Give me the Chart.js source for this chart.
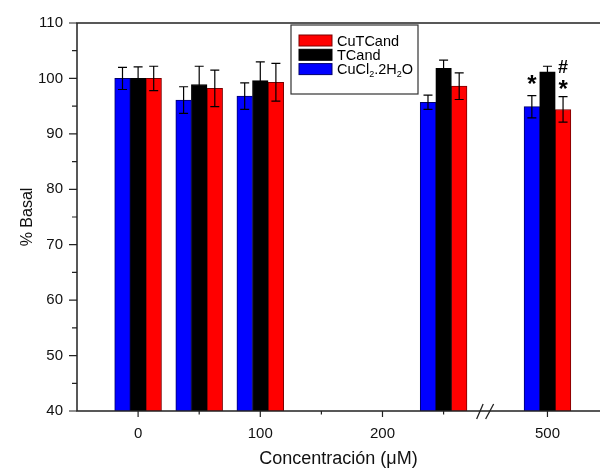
<!DOCTYPE html>
<html>
<head>
<meta charset="utf-8">
<script src="https://cdn.jsdelivr.net/npm/chart.js@4.4.0/dist/chart.umd.min.js"></script>
<style>
    body { margin: 0; background: #fff; }
</style>
</head>
<body>
<canvas id="barBasal" width="600" height="468"></canvas>
<script>
// dữ liệu
const concentrations = [0, 50, 100, 250, 500];
const seriesNames = ["CuCl₂.2H₂O", "TCand", "CuTCand"];
const cuclValues = [100.0, 96.1, 96.8, 95.7, 94.9];
const cuclErrors = [2.0, 2.4, 2.4, 1.3, 2.0];
const tcandValues = [100.0, 98.9, 99.6, 101.8, 101.2];
const tcandErrors = [2.1, 3.3, 3.4, 1.5, 1.0];
const cutcandValues = [100.0, 98.2, 99.3, 98.6, 94.4];
const cutcandErrors = [2.2, 3.3, 3.4, 2.4, 2.3];
const xTickLabels = [0, 100, 200, 500];
const xMinorTicks = [50, 150, 250];
const yMajorTicks = [40, 50, 60, 70, 80, 90, 100, 110];
const markTexts = ["*", "*", "#"];
const markSeries = [0, 2, 2];
const markIndex = [4, 4, 4];

// style
const seriesColors = ["#0000ff", "#000000", "#ff0000"];
const seriesBorders = ["#00006a", "#000000", "#7a0000"];
const markLift = [16, 12, 30];
const markSize = { "*": 24, "#": 18 };
const fontFamily = "'Liberation Sans', Arial, sans-serif";
const axisColor = "#222";

// trục bị cắt giữa 250 và 500
const breakFrom = 300;
const breakShift = 165;
const breakMarkAt = 284;

function toAxis(c) {
    return c >= breakFrom ? c - breakShift : c;
}

const allValues = [cuclValues, tcandValues, cutcandValues];
const allErrors = [cuclErrors, tcandErrors, cutcandErrors];

var datasets = [];
for (let s = 0; s < seriesNames.length; s++) {
    datasets.push({
        label: seriesNames[s],
        data: concentrations.map((c, i) => ({ x: toAxis(c), y: allValues[s][i] })),
        backgroundColor: seriesColors[s],
        borderColor: seriesBorders[s],
        borderWidth: 1,
        barThickness: 15.6
    });
}

// thanh sai số
const errorBars = {
    id: 'errorBars',
    afterDatasetsDraw(chart) {
        const ctx = chart.ctx;
        const yScale = chart.scales.y;
        ctx.save();
        ctx.strokeStyle = "#000";
        ctx.lineWidth = 1.2;
        chart.data.datasets.forEach((ds, s) => {
            const meta = chart.getDatasetMeta(s);
            meta.data.forEach((bar, i) => {
                const v = allValues[s][i], e = allErrors[s][i];
                const yTop = yScale.getPixelForValue(v + e);
                const yBot = yScale.getPixelForValue(v - e);
                ctx.beginPath();
                ctx.moveTo(bar.x, yTop);
                ctx.lineTo(bar.x, yBot);
                ctx.moveTo(bar.x - 4.5, yTop);
                ctx.lineTo(bar.x + 4.5, yTop);
                ctx.moveTo(bar.x - 4.5, yBot);
                ctx.lineTo(bar.x + 4.5, yBot);
                ctx.stroke();
            });
        });
        // dấu * và #
        ctx.fillStyle = "#000";
        ctx.textAlign = "center";
        ctx.textBaseline = "alphabetic";
        for (let m = 0; m < markTexts.length; m++) {
            const s = markSeries[m], i = markIndex[m];
            const bar = chart.getDatasetMeta(s).data[i];
            const yTop = yScale.getPixelForValue(allValues[s][i] + allErrors[s][i]);
            ctx.font = "bold " + markSize[markTexts[m]] + "px " + fontFamily;
            const tm = ctx.measureText(markTexts[m]);
            const cy = yTop - markLift[m];
            ctx.fillText(markTexts[m], bar.x, cy + (tm.actualBoundingBoxAscent - tm.actualBoundingBoxDescent) / 2);
        }
        ctx.restore();
    }
};

// khung trục, vạch chia, dấu ngắt trục
const axesDeco = {
    id: 'axesDeco',
    afterDraw(chart) {
        const ctx = chart.ctx;
        const area = chart.chartArea;
        const xs = chart.scales.x, ys = chart.scales.y;
        ctx.save();
        ctx.strokeStyle = axisColor;
        ctx.lineWidth = 1.5;
        ctx.beginPath();
        ctx.moveTo(area.right, area.top);
        ctx.lineTo(area.left, area.top);
        ctx.lineTo(area.left, area.bottom);
        ctx.lineTo(area.right, area.bottom);
        ctx.stroke();

        ctx.lineWidth = 1.2;
        ctx.beginPath();
        yMajorTicks.forEach(v => {
            const y = ys.getPixelForValue(v);
            ctx.moveTo(area.left - 8, y);
            ctx.lineTo(area.left, y);
            if (v < 110) {
                const ym = ys.getPixelForValue(v + 5);
                ctx.moveTo(area.left - 5, ym);
                ctx.lineTo(area.left, ym);
            }
        });
        xTickLabels.forEach(c => {
            const x = xs.getPixelForValue(toAxis(c));
            ctx.moveTo(x, area.bottom);
            ctx.lineTo(x, area.bottom + 6);
        });
        xMinorTicks.forEach(c => {
            const x = xs.getPixelForValue(toAxis(c));
            ctx.moveTo(x, area.bottom);
            ctx.lineTo(x, area.bottom + 3.5);
        });
        ctx.stroke();

        const bx = xs.getPixelForValue(breakMarkAt);
        ctx.lineWidth = 1.3;
        ctx.beginPath();
        ctx.moveTo(bx - 8.5, area.bottom + 8);
        ctx.lineTo(bx - 2, area.bottom - 7);
        ctx.moveTo(bx + 0.5, area.bottom + 8);
        ctx.lineTo(bx + 8.5, area.bottom - 7);
        ctx.stroke();
        ctx.restore();
    }
};

// chú thích có khung, đặt trong vùng vẽ
const boxLegend = {
    id: 'boxLegend',
    afterDraw(chart) {
        const ctx = chart.ctx;
        const left = 291, top = 25, w = 127, h = 69;
        ctx.save();
        ctx.fillStyle = "#fff";
        ctx.fillRect(left, top, w, h);
        ctx.strokeStyle = "#333";
        ctx.lineWidth = 1.2;
        ctx.strokeRect(left, top, w, h);
        const order = [2, 1, 0];
        order.forEach((s, row) => {
            const cy = top + 15.5 + row * 14.3;
            ctx.fillStyle = seriesColors[s];
            ctx.fillRect(left + 8, cy - 5.5, 33, 11);
            ctx.strokeStyle = seriesBorders[s];
            ctx.lineWidth = 1;
            ctx.strokeRect(left + 8, cy - 5.5, 33, 11);
            drawSubText(ctx, seriesNames[s], left + 46, cy + 5, 14.5);
        });
        ctx.restore();
    }
};

function drawSubText(ctx, text, x, y, size) {
    const subs = "₀₁₂₃₄₅₆₇₈₉";
    ctx.fillStyle = "#000";
    ctx.textAlign = "left";
    ctx.textBaseline = "alphabetic";
    for (const ch of text) {
        const k = subs.indexOf(ch);
        if (k >= 0) {
            ctx.font = (size * 0.62) + "px " + fontFamily;
            ctx.fillText(String(k), x, y + 3);
            x += ctx.measureText(String(k)).width;
        } else {
            ctx.font = size + "px " + fontFamily;
            ctx.fillText(ch, x, y);
            x += ctx.measureText(ch).width;
        }
    }
}

new Chart(document.getElementById('barBasal').getContext('2d'), {
    type: 'bar',
    data: { datasets: datasets },
    plugins: [errorBars, axesDeco, boxLegend],
    options: {
        responsive: false,
        animation: false,
        devicePixelRatio: 1,
        layout: { padding: { top: 22, right: 0, left: 0, bottom: 0 } },
        plugins: {
            legend: { display: false },
            tooltip: { enabled: false }
        },
        scales: {
            x: {
                type: 'linear',
                offset: false,
                min: -50,
                max: 378,
                grid: { display: false, drawTicks: false, offset: false },
                border: { display: false },
                afterFit: s => { s.height = 57; },
                afterBuildTicks: s => {
                    s.ticks = xTickLabels.map(c => ({ value: toAxis(c) }));
                },
                ticks: {
                    autoSkip: false,
                    maxRotation: 0,
                    padding: 14,
                    color: "#111",
                    font: { family: fontFamily, size: 15 },
                    callback: (v, i) => xTickLabels[i]
                },
                title: {
                    display: true,
                    text: "Concentración (μM)",
                    color: "#111",
                    font: { family: fontFamily, size: 18, lineHeight: 1 },
                    padding: { top: 0, bottom: 0 }
                }
            },
            y: {
                min: 40,
                max: 110,
                grid: { display: false, drawTicks: false },
                border: { display: false },
                afterFit: s => { s.width = 77; },
                ticks: {
                    stepSize: 5,
                    autoSkip: false,
                    padding: 14,
                    color: "#111",
                    font: { family: fontFamily, size: 15 },
                    callback: v => (v % 10 === 0 ? v : '')
                },
                title: {
                    display: true,
                    text: "% Basal",
                    color: "#111",
                    font: { family: fontFamily, size: 16, lineHeight: 1 },
                    padding: { top: 20, bottom: 0 }
                }
            }
        }
    }
});
</script>
</body>
</html>
